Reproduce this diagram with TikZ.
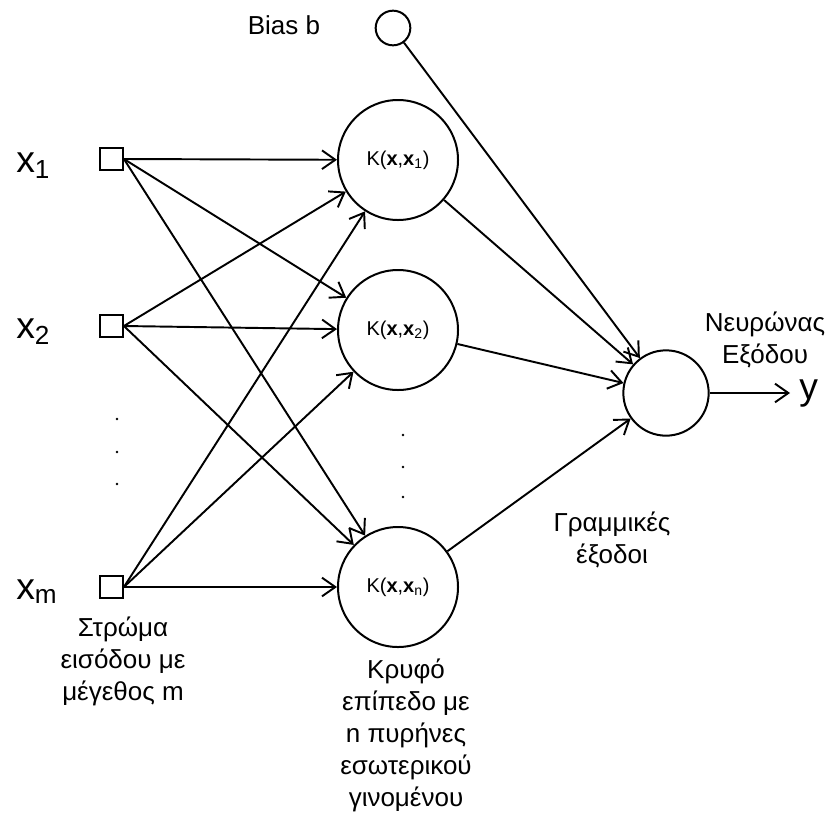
\documentclass[tikz,border=0pt]{standalone}
\usepackage{fontspec}
\setmainfont{Liberation Sans}
\usetikzlibrary{arrows.meta}
\begin{document}
\begin{tikzpicture}[x=0.75pt,y=-0.75pt,
  conn/.style={line width=1.45pt,-{Straight Barb[length=10pt,width=14pt,line width=1.45pt]}},
  inbox/.style={draw,line width=1.6pt,minimum size=17pt,inner sep=0pt},
  hid/.style={draw,circle,line width=1.5pt,minimum size=90pt,inner sep=0pt,font=\fontsize{15}{18}\selectfont},
  lbl/.style={align=center,font=\fontsize{19.5}{24}\selectfont},
  big/.style={font=\fontsize{28}{34}\selectfont,inner sep=0pt}]
\useasboundingbox (0,0) rectangle (830,818);
% input squares
\node[inbox] (s1) at (111.5,159) {};
\node[inbox] (s2) at (111.5,326) {};
\node[inbox] (sm) at (111.5,587) {};
\node[big,anchor=base west] (lx1) at (16,172) {x\textsubscript{1}};
\node[big,anchor=base west] (lx2) at (16,338) {x\textsubscript{2}};
\node[big,anchor=base west] (lxm) at (16,599) {x\textsubscript{m}};
% hidden circles
\node[hid] (k1) at (398,160) {K(\textbf{x},\textbf{x}\textsubscript{1})};
\node[hid] (k2) at (398,330) {K(\textbf{x},\textbf{x}\textsubscript{2})};
\node[hid] (kn) at (398,587) {K(\textbf{x},\textbf{x}\textsubscript{n})};
% output and bias
\node[draw,circle,line width=1.5pt,minimum size=64pt,inner sep=0pt] (out) at (666,393) {};
\node[draw,circle,line width=1.5pt,minimum size=26pt,inner sep=0pt] (bias) at (393,28) {};
\node[lbl] (lbias) at (284,25) {Bias b};
\coordinate (yend) at (790,393);
\node[big,anchor=base west] (ly) at (799,399) {y};
% connections input -> hidden
\foreach \s in {s1,s2,sm}{
  \foreach \k in {k1,k2,kn}{
    \draw[conn] (\s.east) -- (\k);
  }
}
% hidden -> output
\foreach \k in {k1,k2,kn}{
  \draw[conn] (\k) -- (out);
}
\draw[conn] (bias) -- (out);
\draw[conn] (out) -- (yend);
% dots
\foreach \yy in {419,452,484}{\fill (117,\yy) circle (1.4);}
\foreach \yy in {435,467,497}{\fill (403,\yy) circle (1.4);}
% labels
\node[lbl] (lout) at (765,340) {Νευρώνας\\Εξόδου};
\node[lbl] (llin) at (612,540) {Γραμμικές\\έξοδοι};
\node[lbl] (lin) at (123,661) {Στρώμα\\εισόδου με\\μέγεθος m};
\node[lbl] (lhid) at (406,735) {Κρυφό\\επίπεδο με\\n πυρήνες\\εσωτερικού\\γινομένου};
\end{tikzpicture}
\end{document}
